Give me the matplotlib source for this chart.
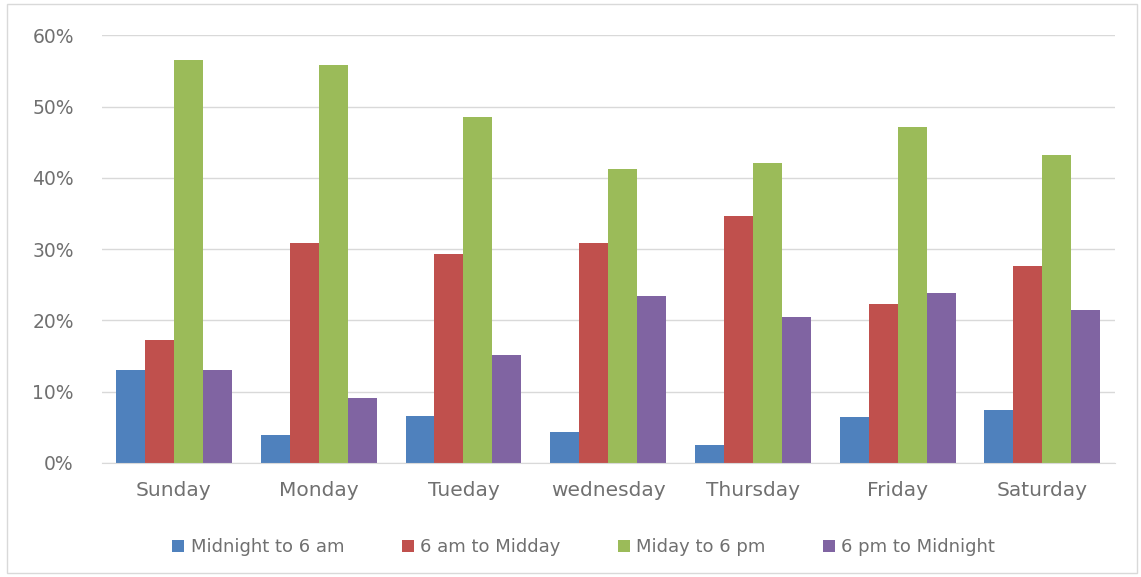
import matplotlib.pyplot as plt
import matplotlib.patches as mpatches
import numpy as np

dias = ['Sunday', 'Monday', 'Tueday', 'wednesday', 'Thursday', 'Friday', 'Saturday']
madrugada = [13.1, 3.9, 6.6, 4.3, 2.5, 6.4, 7.5]
manana = [17.2, 30.9, 29.3, 30.9, 34.7, 22.3, 27.7]
tarde = [56.5, 55.8, 48.6, 41.2, 42.1, 47.2, 43.2]
noche = [13.1, 9.1, 15.2, 23.5, 20.5, 23.9, 21.4]

series = [
    ('Midnight to 6 am', madrugada, '#4F81BD'),
    ('6 am to Midday', manana, '#C0504D'),
    ('Miday to 6 pm', tarde, '#9BBB59'),
    ('6 pm to Midnight', noche, '#8064A2'),
]

gris = '#707070'

fig = plt.figure(figsize=(11.41, 5.77), dpi=100)
ax = fig.add_axes([0.089, 0.1976, 0.888, 0.741])

x = np.arange(len(dias))
ancho = 0.2
for i, (nombre, vals, color) in enumerate(series):
    ax.bar(x + (i - 1.5) * ancho, np.array(vals) / 100, ancho, color=color, label=nombre, zorder=2)

ax.set_xlim(-0.5, len(dias) - 0.5)
ax.set_ylim(0, 0.6)
ax.set_yticks(np.arange(0, 0.61, 0.1))
ax.set_yticklabels([f'{int(round(v * 100))}%' for v in np.arange(0, 0.61, 0.1)])
ax.set_xticks(x)
ax.set_xticklabels(dias)
ax.yaxis.grid(True, color='#D9D9D9', linewidth=1, zorder=0)
ax.set_axisbelow(True)
for s in ['top', 'right', 'left']:
    ax.spines[s].set_visible(False)
ax.spines['bottom'].set_color('#D9D9D9')
ax.tick_params(axis='both', length=0, colors=gris)
ax.tick_params(axis='y', pad=20, labelsize=13.5)
ax.tick_params(axis='x', pad=13, labelsize=14.5)

# la leyenda del original queda algo a la izquierda del centro
ax.legend(loc='center', bbox_to_anchor=(0.476, -0.197), ncol=4, frameon=False,
          fontsize=13, labelcolor=gris, handlelength=0.65, handleheight=0.65,
          handletextpad=0.35, columnspacing=3.2)

fig.patches.append(mpatches.Rectangle((7 / 1141, 4 / 577), 1130 / 1141, 569 / 577,
                                      transform=fig.transFigure, fill=False,
                                      edgecolor='#D9D9D9', linewidth=1))

fig.savefig('out.png', dpi=100)
